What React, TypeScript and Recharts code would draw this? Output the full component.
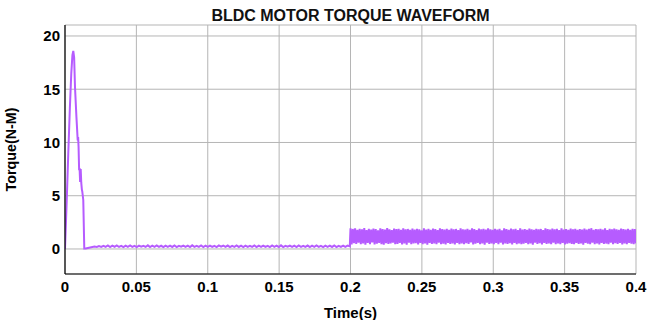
import { CartesianGrid, Line, LineChart, XAxis, YAxis } from "recharts";

// startup transient (time in s, torque in N-M)
const startTime = [0, 0.0012, 0.0023, 0.0034, 0.0044, 0.0052, 0.0058, 0.0064, 0.007, 0.008, 0.0089, 0.0092, 0.0095, 0.0099, 0.0102, 0.0106, 0.011, 0.0114, 0.0118, 0.0121, 0.0128, 0.0135];
const startTorque = [0, 4.5, 9.0, 13.2, 16.5, 18.2, 18.6, 18.0, 15.2, 12.4, 10.2, 10.5, 9.6, 7.4, 7.6, 6.3, 7.5, 6.2, 5.6, 5.4, 4.6, 0.05];

// light-load ripple, 0.0145 s .. 0.1995 s
const lowRipple = [
  0.05, 0.1, 0.14, 0.18, 0.22, 0.19, 0.28, 0.2, 0.3, 0.19,
  0.33, 0.18, 0.31, 0.21, 0.34, 0.19, 0.3, 0.18, 0.32, 0.2,
  0.33, 0.19, 0.29, 0.18, 0.32, 0.21, 0.3, 0.19, 0.34, 0.18,
  0.31, 0.2, 0.33, 0.19, 0.3, 0.17, 0.32, 0.2, 0.31, 0.19,
  0.33, 0.18, 0.3, 0.21, 0.32, 0.19, 0.31, 0.18, 0.34, 0.2,
  0.3, 0.19, 0.33, 0.18, 0.31, 0.2, 0.32, 0.19, 0.29, 0.18,
  0.33, 0.21, 0.31, 0.19, 0.32, 0.17, 0.3, 0.2, 0.34, 0.19,
  0.31, 0.18, 0.32, 0.2, 0.3, 0.19, 0.33, 0.18, 0.31, 0.2,
  0.32, 0.19, 0.3, 0.18, 0.33, 0.2, 0.31, 0.19, 0.34, 0.18,
  0.3, 0.21, 0.32, 0.19, 0.31, 0.18, 0.33, 0.2, 0.3, 0.19,
  0.32, 0.18, 0.31, 0.2, 0.33, 0.19, 0.3, 0.18, 0.32, 0.2,
  0.31, 0.19, 0.33, 0.18, 0.3, 0.2, 0.32, 0.19, 0.31, 0.24,
];

// loaded ripple, 0.2 s .. 0.4 s
const highRipple = [
  1.95, 0.42, 1.88, 0.55, 1.93, 0.47, 1.8, 0.6, 1.9, 0.44,
  1.85, 0.52, 1.97, 0.4, 1.78, 0.58, 1.9, 0.46, 1.83, 0.62,
  1.92, 0.43, 1.87, 0.5, 1.75, 0.57, 1.94, 0.45, 1.86, 0.41,
  1.81, 0.54, 1.96, 0.48, 1.84, 0.52, 1.77, 0.6, 1.91, 0.44,
  1.86, 0.47, 1.89, 0.56, 1.8, 0.43, 1.95, 0.53, 1.84, 0.4,
  1.88, 0.59, 1.79, 0.46, 1.92, 0.51, 1.82, 0.55, 1.9, 0.42,
  1.85, 0.57, 1.76, 0.45, 1.94, 0.52, 1.83, 0.41, 1.89, 0.58,
  1.8, 0.47, 1.91, 0.53, 1.86, 0.44, 1.78, 0.6, 1.93, 0.46,
  1.87, 0.5, 1.82, 0.43, 1.9, 0.56, 1.79, 0.48, 1.92, 0.52,
  1.84, 0.42, 1.88, 0.58, 1.77, 0.46, 1.95, 0.51, 1.85, 0.44,
  1.83, 0.55, 1.9, 0.47, 1.8, 0.61, 1.93, 0.43, 1.86, 0.5,
  1.78, 0.57, 1.92, 0.45, 1.84, 0.53, 1.89, 0.41, 1.81, 0.59,
  1.94, 0.48, 1.85, 0.52, 1.79, 0.44, 1.9, 0.56, 1.83, 0.46,
  1.88, 0.6, 1.76, 0.43, 1.93, 0.51, 1.86, 0.47, 1.8, 0.55,
  1.91, 0.42, 1.84, 0.58, 1.89, 0.46, 1.78, 0.53, 1.95, 0.44,
  1.82, 0.5, 1.87, 0.57, 1.8, 0.45, 1.92, 0.52, 1.85, 0.41,
  1.79, 0.59, 1.9, 0.47, 1.84, 0.54, 1.88, 0.43, 1.77, 0.56,
  1.93, 0.48, 1.86, 0.51, 1.81, 0.45, 1.91, 0.6, 1.84, 0.44,
  1.89, 0.53, 1.78, 0.46, 1.94, 0.57, 1.83, 0.42, 1.87, 0.5,
  1.8, 0.55, 1.92, 0.48, 1.85, 0.44, 1.9, 0.58, 1.79, 0.47,
  1.86, 0.52, 1.83, 0.41, 1.91, 0.56, 1.82, 0.49, 1.88, 0.45,
  1.95, 0.6, 1.8, 0.46, 1.87, 0.53, 1.84, 0.43, 1.9, 0.57,
  1.81, 0.48, 1.93, 0.51, 1.78, 0.45, 1.89, 0.59, 1.85, 0.44,
  1.92, 0.54, 1.84, 0.47, 1.8, 0.56, 1.91, 0.42, 1.86, 0.52,
  1.83, 0.46, 1.88, 0.58, 1.79, 0.5, 1.9, 0.44, 1.87, 0.53,
];

const xTicks = [0, 0.05, 0.1, 0.15, 0.2, 0.25, 0.3, 0.35, 0.4];
const yTicks = [0, 5, 10, 15, 20];

function sampled(values: number[], t0: number, t1: number) {
  const dt = (t1 - t0) / (values.length - 1);
  return values.map((v, i) => ({ t: t0 + i * dt, v }));
}

const data = [
  ...startTime.map((t, i) => ({ t, v: startTorque[i] })),
  ...sampled(lowRipple, 0.0145, 0.1995),
  ...sampled(highRipple, 0.2, 0.4),
];

const font = "'Liberation Sans', Arial, sans-serif";
const tickStyle = { fill: "#000", fontSize: 15, fontWeight: 700, fontFamily: font };
const labelStyle = { fill: "#000", fontWeight: 700, fontFamily: font };

export default function App() {
  return (
    <div style={{ position: "absolute", left: 0, top: 0, width: 663, height: 320, background: "#fff" }}>
      <div
        style={{
          position: "absolute", left: 65, top: 7, width: 571, textAlign: "center",
          fontFamily: font, fontWeight: 700, fontSize: 16, color: "#111", lineHeight: "18px",
        }}
      >
        BLDC MOTOR TORQUE WAVEFORM
      </div>
      <LineChart width={663} height={320} data={data} margin={{ top: 25, right: 27, bottom: 0, left: 0 }}>
        <CartesianGrid stroke="#b5b5b5" strokeWidth={1} />
        <XAxis
          dataKey="t" type="number" domain={[0, 0.4]} ticks={xTicks} allowDataOverflow
          height={46} tick={tickStyle} tickLine={false} tickSize={6} tickMargin={1}
          axisLine={{ stroke: "#000", strokeWidth: 1.2 }}
          label={{ value: "Time(s)", position: "insideBottom", offset: 2, style: { ...labelStyle, fontSize: 15 } }}
        />
        <XAxis
          xAxisId="top" orientation="top" dataKey="t" type="number" domain={[0, 0.4]} ticks={xTicks}
          height={0} tick={false} tickLine={false} axisLine={{ stroke: "#000", strokeWidth: 1.2 }}
        />
        <YAxis
          type="number" domain={[-2.35, 21.03]} ticks={yTicks} allowDataOverflow
          width={65} tick={tickStyle} tickLine={false} tickSize={3} tickMargin={2}
          axisLine={{ stroke: "#000", strokeWidth: 1.2 }}
          label={{ value: "Torque(N-M)", angle: -90, position: "insideLeft", offset: 11, style: { ...labelStyle, fontSize: 14.3, textAnchor: "middle" } }}
        />
        <YAxis
          yAxisId="right" orientation="right" type="number" domain={[-2.35, 21.03]} ticks={yTicks}
          width={0} tick={false} tickLine={false} axisLine={{ stroke: "#000", strokeWidth: 1.2 }}
        />
        <Line
          type="linear" dataKey="v" stroke="#b65cff" strokeWidth={2} dot={false}
          isAnimationActive={false}
        />
      </LineChart>
    </div>
  );
}
